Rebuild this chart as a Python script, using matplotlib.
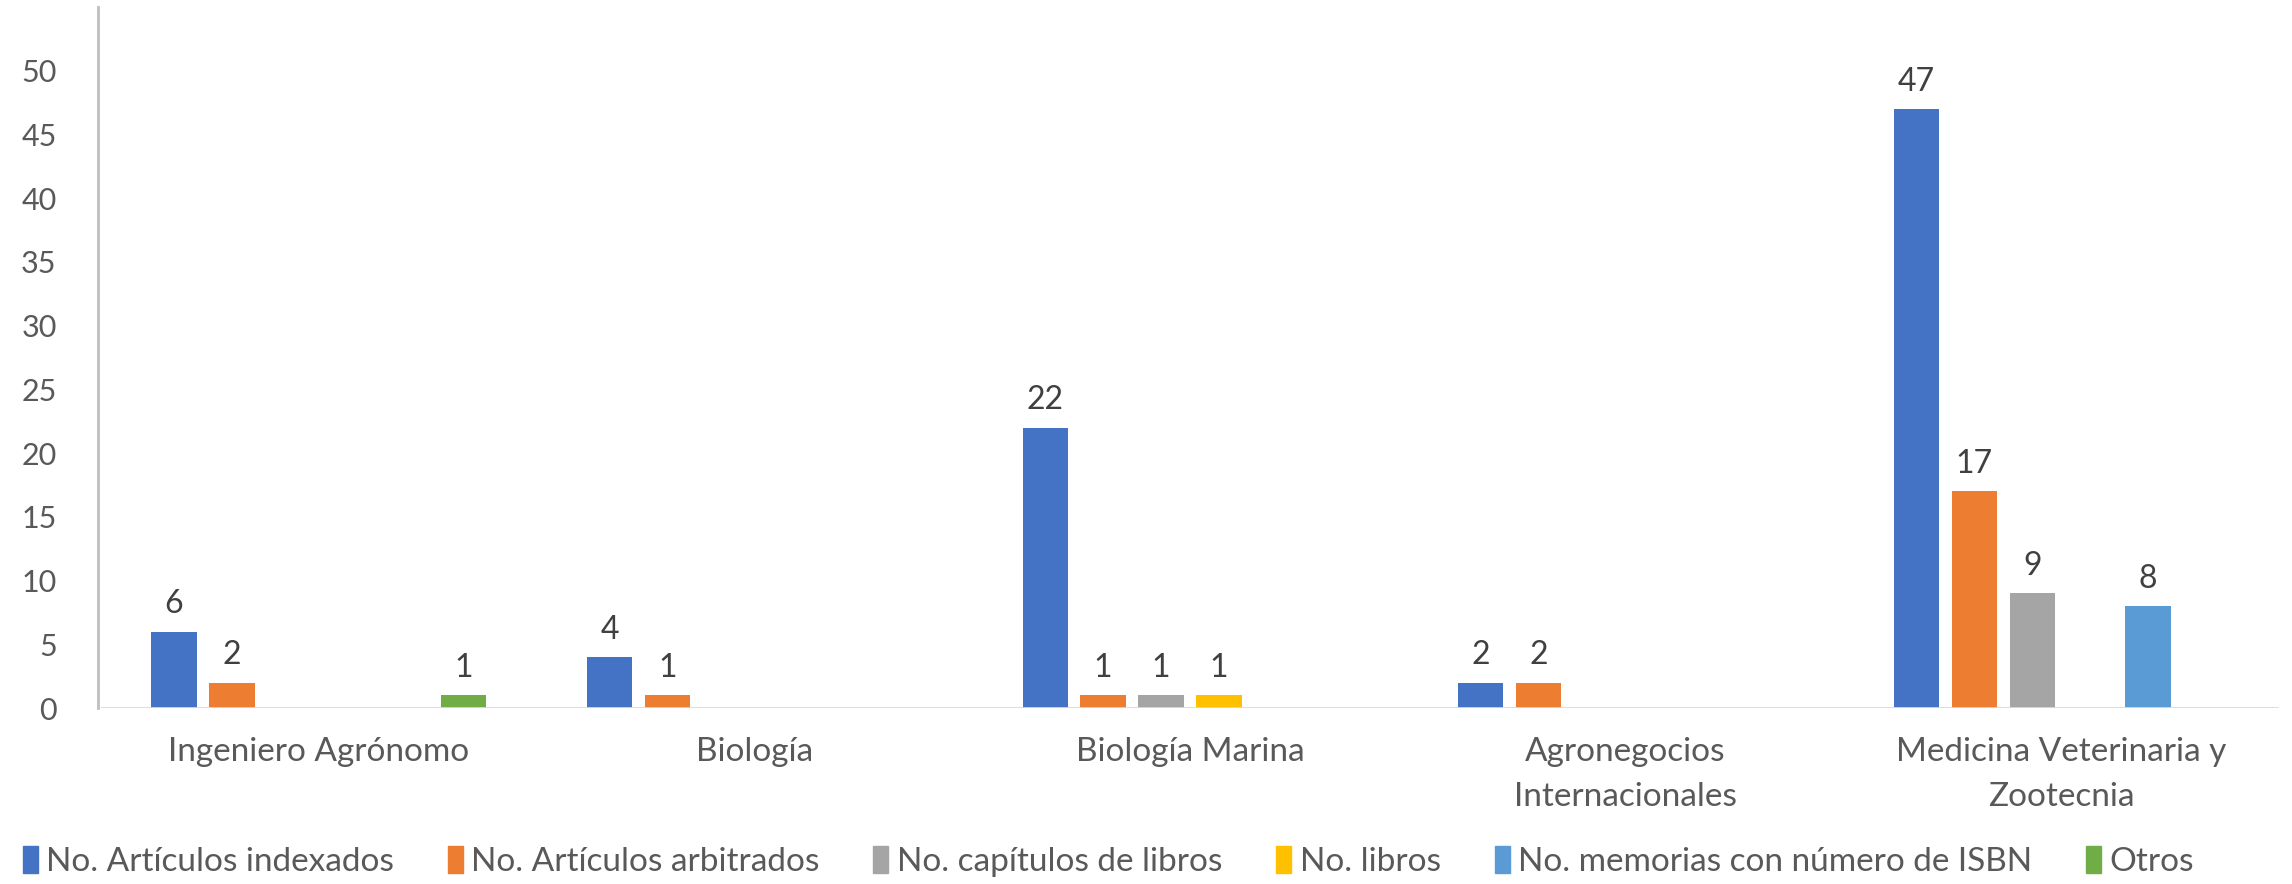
import matplotlib
matplotlib.use('Agg')
import matplotlib.pyplot as plt
import numpy as np

# Data
categories = ['Ingeniero Agrónomo', 'Biología', 'Biología Marina',
              'Agronegocios\nInternacionales', 'Medicina Veterinaria y\nZootecnia']
series_names = ['No. Artículos indexados', 'No. Artículos arbitrados',
                'No. capítulos de libros', 'No. libros',
                'No. memorias con número de ISBN', 'Otros']
articulos_indexados = [6, 4, 22, 2, 47]
articulos_arbitrados = [2, 1, 1, 2, 17]
capitulos_libros = [0, 0, 1, 0, 9]
libros = [0, 0, 1, 0, 0]
memorias_isbn = [0, 0, 0, 0, 8]
otros = [1, 0, 0, 0, 0]
series_values = [articulos_indexados, articulos_arbitrados, capitulos_libros,
                 libros, memorias_isbn, otros]
colors = ['#4472C4', '#ED7D31', '#A5A5A5', '#FFC000', '#5B9BD5', '#70AD47']
yticks = [0, 5, 10, 15, 20, 25, 30, 35, 40, 45, 50]

plt.rcParams['font.family'] = ['Lato', 'DejaVu Sans']

fig = plt.figure(figsize=(22.92, 8.84), dpi=100)
ax = fig.add_axes([0.0441, 0.199, 0.9502, 0.793])

x = np.arange(len(categories))
step = 0.133
width = 0.104
for i, (name, vals, c) in enumerate(zip(series_names, series_values, colors)):
    pos = x + (i - 2.5) * step
    bars = ax.bar(pos, vals, width, color=c, label=name, zorder=3)
    for b, v in zip(bars, vals):
        if v > 0:
            ax.annotate(str(v), (b.get_x() + b.get_width() / 2, v),
                        xytext=(0, 9), textcoords='offset points',
                        ha='center', va='bottom', fontsize=23, color='#404040')

ax.set_xlim(-0.5, len(categories) - 0.5)
ax.set_ylim(0, 55)
ax.set_yticks(yticks)
ax.set_xticks(x)
ax.set_xticklabels(categories, fontsize=24, color='#595959', linespacing=1.6)
ax.tick_params(axis='y', labelsize=22, labelcolor='#595959', length=0, pad=30)
ax.tick_params(axis='x', length=0, pad=21)
for lab in ax.get_yticklabels():
    lab.set_horizontalalignment('center')

for s in ['top', 'right', 'bottom']:
    ax.spines[s].set_visible(False)
ax.spines['left'].set_color('#BFBFBF')
ax.spines['left'].set_linewidth(2)
ax.spines['left'].set_position(('outward', 2))
ax.axhline(0, xmin=0.0, xmax=1, color='#D9D9D9', linewidth=2, zorder=4)

handles = [plt.Rectangle((0, 0), 1, 1, color=c) for c in colors]
fig.legend(handles, series_names, loc='center', bbox_to_anchor=(0.4835, 0.025),
           ncol=6, frameon=False, fontsize=24, handlelength=0.45, handleheight=0.85,
           handletextpad=0.25, columnspacing=1.62, labelcolor='#595959')

fig.savefig('out.png', dpi=100)
